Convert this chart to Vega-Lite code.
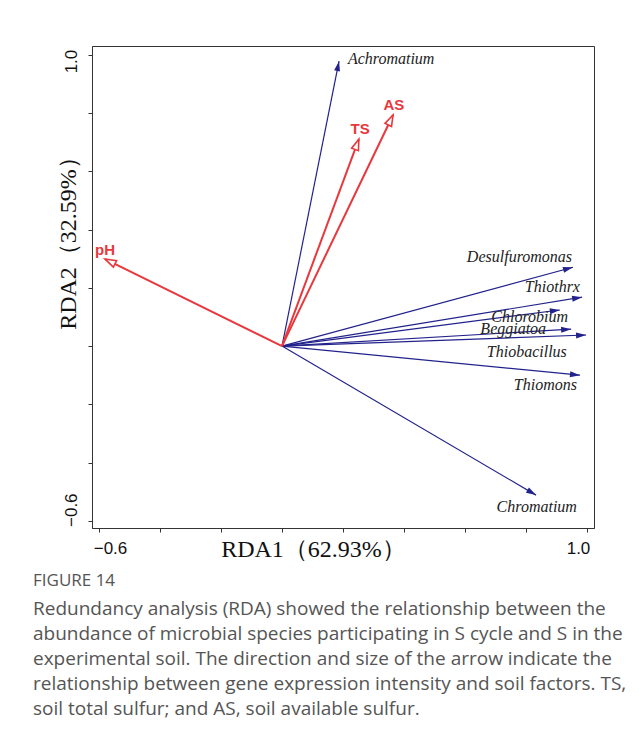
{
  "$schema": "https://vega.github.io/schema/vega-lite/v6.json",
  "width": 502,
  "height": 482,
  "autosize": {"type": "none"},
  "padding": {"left": 92, "top": 46, "right": 49, "bottom": 215},
  "background": "white",
  "config": {"view": {"stroke": "#333", "strokeWidth": 1}},
  "title": {
    "text": "FIGURE 14",
    "subtitle": [
      "Redundancy analysis (RDA) showed the relationship between the",
      "abundance of microbial species participating in S cycle and S in the",
      "experimental soil. The direction and size of the arrow indicate the",
      "relationship between gene expression intensity and soil factors. TS,",
      "soil total sulfur; and AS, soil available sulfur."
    ],
    "orient": "bottom",
    "anchor": "start",
    "frame": "group",
    "dx": -59,
    "offset": 12,
    "font": "Open Sans",
    "fontSize": 17,
    "fontWeight": "normal",
    "color": "#555555",
    "subtitleFont": "Open Sans",
    "subtitleFontSize": 19,
    "subtitleColor": "#555555",
    "subtitleLineHeight": 25,
    "subtitlePadding": 10
  },
  "datasets": {
    "vec": [
      {"name": "Achromatium", "group": "species", "x": 0.187, "y": 0.979, "lx": 0.216, "ly": 0.986},
      {"name": "Desulfuromonas", "group": "species", "x": 0.954, "y": 0.271, "lx": 0.951, "ly": 0.306},
      {"name": "Thiothrx", "group": "species", "x": 0.984, "y": 0.168, "lx": 0.977, "ly": 0.203},
      {"name": "Chlorobium", "group": "species", "x": 0.911, "y": 0.124, "lx": 0.938, "ly": 0.100},
      {"name": "Beggiatoa", "group": "species", "x": 0.948, "y": 0.058, "lx": 0.866, "ly": 0.058},
      {"name": "Thiobacillus", "group": "species", "x": 0.997, "y": 0.038, "lx": 0.934, "ly": -0.021},
      {"name": "Thiomons", "group": "species", "x": 0.977, "y": -0.100, "lx": 0.967, "ly": -0.134},
      {"name": "Chromatium", "group": "species", "x": 0.833, "y": -0.512, "lx": 0.967, "ly": -0.553},
      {"name": "TS", "group": "env", "x": 0.252, "y": 0.711, "lx": 0.256, "ly": 0.746},
      {"name": "AS", "group": "env", "x": 0.364, "y": 0.794, "lx": 0.367, "ly": 0.828},
      {"name": "pH", "group": "env", "x": -0.580, "y": 0.299, "lx": -0.580, "ly": 0.330}
    ]
  },
  "layer": [
    {
      "mark": {"type": "rule", "color": "#c8c8c8", "strokeWidth": 1},
      "encoding": {
        "x": {
          "datum": 0,
          "type": "quantitative",
          "scale": {"domain": [-0.623, 1.023], "nice": false, "zero": false},
          "axis": {
            "values": [-0.6, -0.4, -0.2, 0, 0.2, 0.4, 0.6, 0.8, 1.0],
            "format": ".1f",
            "labelExpr": "datum.value < -0.5 || datum.value > 0.9 ? datum.label : ''",
            "grid": false,
            "domainColor": "#333",
            "tickColor": "#333",
            "tickSize": 4,
            "labelFont": "Liberation Sans",
            "labelFontSize": 17,
            "labelColor": "#111",
            "labelPadding": 8,
            "labelAlign": "center",
            "labelOffset": {"condition": {"test": "datum.value < 0", "value": 11}, "value": -9},
            "title": "RDA1（62.93%）",
            "titleFont": "Liberation Serif",
            "titleFontSize": 24,
            "titleFontWeight": "normal",
            "titleColor": "#111",
            "titleX": 221,
            "titleY": 21,
            "titleBaseline": "middle",
            "titleAlign": "center"
          }
        }
      }
    },
    {
      "mark": {"type": "rule", "color": "#c8c8c8", "strokeWidth": 1},
      "encoding": {
        "y": {
          "datum": 0,
          "type": "quantitative",
          "scale": {"domain": [-0.625, 1.031], "nice": false, "zero": false},
          "axis": {
            "values": [-0.6, -0.4, -0.2, 0, 0.2, 0.4, 0.6, 0.8, 1.0],
            "format": ".1f",
            "labelExpr": "datum.value < -0.5 || datum.value > 0.9 ? datum.label : ''",
            "grid": false,
            "domainColor": "#333",
            "tickColor": "#333",
            "tickSize": 4,
            "labelFont": "Liberation Sans",
            "labelFontSize": 17,
            "labelColor": "#111",
            "labelAngle": 270,
            "labelAlign": "center",
            "labelBaseline": "alphabetic",
            "labelPadding": 12,
            "labelOffset": {"condition": {"test": "datum.value > 0", "value": 6}, "value": -11},
            "title": "RDA2（32.59%）",
            "titleFont": "Liberation Serif",
            "titleFontSize": 24,
            "titleFontWeight": "normal",
            "titleColor": "#111",
            "titleAngle": 270,
            "titleX": -24,
            "titleY": 191,
            "titleBaseline": "middle",
            "titleAlign": "center"
          }
        }
      }
    },
    {
      "data": {"name": "vec"},
      "transform": [{"filter": "datum.group == 'species'"}],
      "mark": {"type": "rule", "color": "#22228c", "strokeWidth": 1.2},
      "encoding": {
        "x": {"field": "x", "type": "quantitative"},
        "y": {"field": "y", "type": "quantitative"},
        "x2": {"datum": 0},
        "y2": {"datum": 0}
      }
    },
    {
      "data": {"name": "vec"},
      "transform": [{"filter": "datum.group == 'env'"}],
      "mark": {"type": "rule", "color": "#e8383d", "strokeWidth": 2},
      "encoding": {
        "x": {"field": "x", "type": "quantitative"},
        "y": {"field": "y", "type": "quantitative"},
        "x2": {"datum": 0},
        "y2": {"datum": 0}
      }
    },
    {
      "data": {"name": "vec"},
      "transform": [
        {"filter": "datum.group == 'species'"},
        {"calculate": "atan2(datum.x * 305, datum.y * 291) * 180 / PI", "as": "ang"}
      ],
      "mark": {"type": "point", "shape": "M0,0L-0.3,1L0.3,1Z", "filled": true, "color": "#22228c", "size": 400, "opacity": 1},
      "encoding": {
        "x": {"field": "x", "type": "quantitative"},
        "y": {"field": "y", "type": "quantitative"},
        "angle": {"field": "ang", "type": "quantitative", "scale": null}
      }
    },
    {
      "data": {"name": "vec"},
      "transform": [
        {"filter": "datum.group == 'env'"},
        {"calculate": "atan2(datum.x * 305, datum.y * 291) * 180 / PI", "as": "ang"}
      ],
      "mark": {"type": "point", "shape": "M0,0L-0.33,1L0.33,1Z", "filled": true, "fill": "white", "stroke": "#e8383d", "strokeWidth": 1.6, "size": 484, "opacity": 1},
      "encoding": {
        "x": {"field": "x", "type": "quantitative"},
        "y": {"field": "y", "type": "quantitative"},
        "angle": {"field": "ang", "type": "quantitative", "scale": null}
      }
    },
    {
      "data": {"name": "vec"},
      "transform": [{"filter": "datum.group == 'species' && datum.name != 'Achromatium'"}],
      "mark": {"type": "text", "align": "right", "baseline": "middle", "font": "Liberation Serif", "fontStyle": "italic", "fontSize": 16, "color": "#222"},
      "encoding": {
        "x": {"field": "lx", "type": "quantitative"},
        "y": {"field": "ly", "type": "quantitative"},
        "text": {"field": "name"}
      }
    },
    {
      "data": {"name": "vec"},
      "transform": [{"filter": "datum.name == 'Achromatium'"}],
      "mark": {"type": "text", "align": "left", "baseline": "middle", "font": "Liberation Serif", "fontStyle": "italic", "fontSize": 16, "color": "#222"},
      "encoding": {
        "x": {"field": "lx", "type": "quantitative"},
        "y": {"field": "ly", "type": "quantitative"},
        "text": {"field": "name"}
      }
    },
    {
      "data": {"name": "vec"},
      "transform": [{"filter": "datum.group == 'env'"}],
      "mark": {"type": "text", "align": "center", "baseline": "middle", "font": "Liberation Sans", "fontWeight": "bold", "fontSize": 15, "color": "#e8383d"},
      "encoding": {
        "x": {"field": "lx", "type": "quantitative"},
        "y": {"field": "ly", "type": "quantitative"},
        "text": {"field": "name"}
      }
    }
  ]
}
